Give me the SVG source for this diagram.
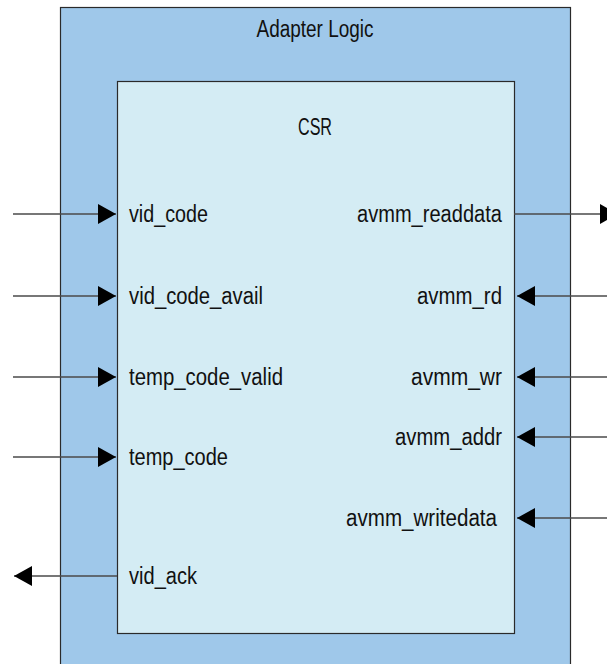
<svg xmlns="http://www.w3.org/2000/svg" width="607" height="664" viewBox="0 0 607 664">
  <style>
    .t { font-family: "Liberation Sans", "DejaVu Sans", sans-serif; font-size: 23px; fill: #111; }
    .conn { stroke: #4a4a4a; stroke-width: 1.3; fill: none; marker-end: url(#arr); }
  </style>
  <defs>
    <marker id="arr" markerUnits="userSpaceOnUse" markerWidth="18" markerHeight="20" refX="18" refY="10" orient="auto" viewBox="0 0 18 20">
      <path d="M0,0 L18,10 L0,20 Z" fill="#000"/>
    </marker>
  </defs>
  <rect width="607" height="664" fill="#fff"/>
  <g id="adapter_logic">
    <rect x="60.5" y="7.5" width="510" height="670" fill="#9fc8ea" stroke="#2a2a2a" stroke-width="1.2"/>
    <text class="t" x="315" y="37" text-anchor="middle" textLength="117" lengthAdjust="spacingAndGlyphs">Adapter Logic</text>
  </g>
  <g id="csr">
    <rect x="117.5" y="81.5" width="397" height="552" fill="#d4ecf4" stroke="#2a2a2a" stroke-width="1.2"/>
    <text class="t" x="315" y="135" text-anchor="middle" textLength="34" lengthAdjust="spacingAndGlyphs">CSR</text>
    <text class="t" x="129" y="222" textLength="79" lengthAdjust="spacingAndGlyphs">vid_code</text>
    <text class="t" x="129" y="304" textLength="134" lengthAdjust="spacingAndGlyphs">vid_code_avail</text>
    <text class="t" x="129" y="385" textLength="154" lengthAdjust="spacingAndGlyphs">temp_code_valid</text>
    <text class="t" x="129" y="465" textLength="99" lengthAdjust="spacingAndGlyphs">temp_code</text>
    <text class="t" x="129" y="584" textLength="68" lengthAdjust="spacingAndGlyphs">vid_ack</text>
    <text class="t" x="357" y="222" textLength="145" lengthAdjust="spacingAndGlyphs">avmm_readdata</text>
    <text class="t" x="417" y="304" textLength="85" lengthAdjust="spacingAndGlyphs">avmm_rd</text>
    <text class="t" x="411" y="385" textLength="91" lengthAdjust="spacingAndGlyphs">avmm_wr</text>
    <text class="t" x="395" y="445" textLength="107" lengthAdjust="spacingAndGlyphs">avmm_addr</text>
    <text class="t" x="346" y="526" textLength="151" lengthAdjust="spacingAndGlyphs">avmm_writedata</text>
  </g>
  <g id="connectors">
    <line class="conn" x1="13" y1="214" x2="116" y2="214"/>
    <line class="conn" x1="13" y1="296" x2="116" y2="296"/>
    <line class="conn" x1="13" y1="377" x2="116" y2="377"/>
    <line class="conn" x1="13" y1="457" x2="116" y2="457"/>
    <line class="conn" x1="117" y1="576" x2="14" y2="576"/>
    <line class="conn" x1="514" y1="214" x2="618" y2="214"/>
    <line class="conn" x1="607" y1="296" x2="517" y2="296"/>
    <line class="conn" x1="607" y1="377" x2="517" y2="377"/>
    <line class="conn" x1="607" y1="437" x2="517" y2="437"/>
    <line class="conn" x1="607" y1="518" x2="517" y2="518"/>
  </g>
</svg>
